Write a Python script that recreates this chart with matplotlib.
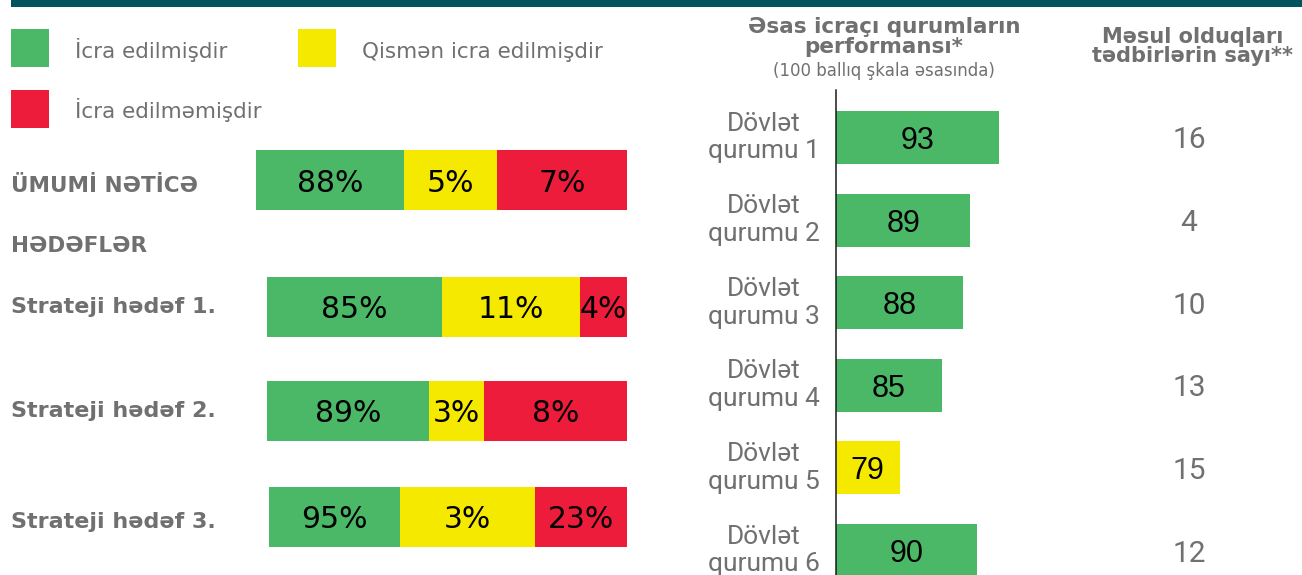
import matplotlib
matplotlib.use("Agg")
import matplotlib.pyplot as plt
import matplotlib.transforms as mtransforms
from matplotlib.patches import Rectangle

# ---------------- data ----------------
status_labels = ["İcra edilmişdir", "Qismən icra edilmişdir", "İcra edilməmişdir"]

goal_labels = ["ÜMUMİ NƏTİCƏ", "Strateji hədəf 1.", "Strateji hədəf 2.", "Strateji hədəf 3."]
goal_header = "HƏDƏFLƏR"
done_pct = [88, 85, 89, 95]
partial_pct = [5, 11, 3, 3]
notdone_pct = [7, 4, 8, 23]
# segment lengths as drawn in the infographic (share of the full bar width)
done_len = [39.9, 47.2, 43.7, 35.3]
partial_len = [25.1, 37.2, 14.8, 36.4]
notdone_len = [35.0, 12.7, 38.5, 24.8]

perf_title = ["Əsas icraçı qurumların", "performansı*"]
perf_subtitle = "(100 ballıq şkala əsasında)"
count_title = ["Məsul olduqları", "tədbirlərin sayı**"]
agencies = ["Dövlət\nqurumu 1", "Dövlət\nqurumu 2", "Dövlət\nqurumu 3",
            "Dövlət\nqurumu 4", "Dövlət\nqurumu 5", "Dövlət\nqurumu 6"]
scores = [93, 89, 88, 85, 79, 90]
score_status = ["done", "done", "done", "done", "partial", "done"]
measures = [16, 4, 10, 13, 15, 12]

# ---------------- style ----------------
W, H = 1302, 575
GREEN = "#4BB867"
YELLOW = "#F5E900"
RED = "#EE1C3B"
TEAL = "#03535F"
GRAY = "#707070"
status_color = {"done": GREEN, "partial": YELLOW, "notdone": RED}
REG = ["DejaVu Sans"]
ROB = ["Roboto", "DejaVu Sans"]
NUM_R = ["Liberation Sans", "DejaVu Sans"]

fig = plt.figure(figsize=(W / 100, H / 100), dpi=100)
fig.patch.set_facecolor("white")

# background axes in pixel coordinates
bg = fig.add_axes([0, 0, 1, 1])
bg.set_xlim(0, W)
bg.set_ylim(H, 0)
bg.axis("off")

# top band
bg.add_patch(Rectangle((11, 0), W - 11, 7.3, color=TEAL, lw=0))

# legend
leg_pos = [(11, 29, 75, 58), (298, 29, 362, 58), (11, 90, 75, 118)]
leg_cols = [GREEN, YELLOW, RED]
for (sx, sy, tx, ty), col, lab in zip(leg_pos, leg_cols, status_labels):
    bg.add_patch(Rectangle((sx, sy), 38, 38, color=col, lw=0))
    bg.text(tx, ty, lab, ha="left", va="baseline", fontsize=15.5,
            color=GRAY, family=REG)

# left labels
label_base = [191.7, 313, 417, 528]
label_size = [15.5, 16, 16, 16]
for lab, yb, fs in zip(goal_labels, label_base, label_size):
    bg.text(11, yb, lab, ha="left", va="baseline", fontsize=fs,
            fontweight="bold", color=GRAY, family=REG)
bg.text(11, 251.7, goal_header, ha="left", va="baseline", fontsize=15.5,
        fontweight="bold", color=GRAY, family=REG)

# ---------------- left stacked bars ----------------
ax_l = fig.add_axes([256 / W, 0, 371 / W, 1])
ax_l.set_xlim(0, 100)
ax_l.set_ylim(H, 0)
ax_l.axis("off")
ax_l.patch.set_alpha(0)

row_y = [180, 307, 411, 517]
starts = [100 - (d + p + n) for d, p, n in zip(done_len, partial_len, notdone_len)]
lefts_p = [s + d for s, d in zip(starts, done_len)]
lefts_n = [s + p for s, p in zip(lefts_p, partial_len)]
ax_l.barh(row_y, done_len, left=starts, height=60, color=GREEN, lw=0)
ax_l.barh(row_y, partial_len, left=lefts_p, height=60, color=YELLOW, lw=0)
ax_l.barh(row_y, notdone_len, left=lefts_n, height=60, color=RED, lw=0)
for y, s, lp, ln, d, p, n, dl, pl, nl in zip(row_y, starts, lefts_p, lefts_n,
                                            done_pct, partial_pct, notdone_pct,
                                            done_len, partial_len, notdone_len):
    for x0, ln_, v in ((s, dl, d), (lp, pl, p), (ln, nl, n)):
        ax_l.text(x0 + ln_ / 2, y, f"{v}%", ha="center", va="center_baseline",
                  fontsize=21.5, color="black", family=REG)

# ---------------- right bars ----------------
top_px, bot_px = 90, 575
c0, step = 137.5, 82.6
ax_r = fig.add_axes([836 / W, 0, 212 / W, (bot_px - top_px) / H])
ax_r.set_xlim(70, 100)
ax_r.set_ylim((bot_px - c0) / step, (top_px - c0) / step)
ax_r.patch.set_alpha(0)
for sp in ["top", "right", "bottom"]:
    ax_r.spines[sp].set_visible(False)
ax_r.spines["left"].set_linewidth(1.1)
ax_r.spines["left"].set_color("#1a1a1a")
ax_r.set_xticks([])
ax_r.set_yticks([])

idx = list(range(len(scores)))
ax_r.barh(idx, [s - 70 for s in scores], left=70, height=53 / step,
          color=[status_color[s] for s in score_status], lw=0)
for i, s in zip(idx, scores):
    ax_r.text((70 + s) / 2, i, f"{s}", ha="center", va="center_baseline",
              fontsize=22, color="black", family=NUM_R)

mix = mtransforms.blended_transform_factory(bg.transData, ax_r.transData)
for i, lab, m in zip(idx, agencies, measures):
    bg.text(764, i, lab, transform=mix, ha="center", va="center",
            multialignment="center", fontsize=19, color=GRAY, family=ROB)
    bg.text(1189, i, f"{m}", transform=mix, ha="center", va="center_baseline",
            fontsize=21.5, color=GRAY, family=ROB)

# headers
bg.text(884, 33.3, perf_title[0], ha="center", va="baseline", fontsize=15.5,
        fontweight="bold", color=GRAY, family=REG)
bg.text(884, 53.3, perf_title[1], ha="center", va="baseline", fontsize=15.5,
        fontweight="bold", color=GRAY, family=REG)
bg.text(884, 76, perf_subtitle, ha="center", va="baseline", fontsize=12,
        color=GRAY, family=REG)
bg.text(1193, 43.3, count_title[0], ha="center", va="baseline", fontsize=15,
        fontweight="bold", color=GRAY, family=REG)
bg.text(1193, 62.5, count_title[1], ha="center", va="baseline", fontsize=15,
        fontweight="bold", color=GRAY, family=REG)

fig.savefig("out.png", dpi=100, facecolor="white")
